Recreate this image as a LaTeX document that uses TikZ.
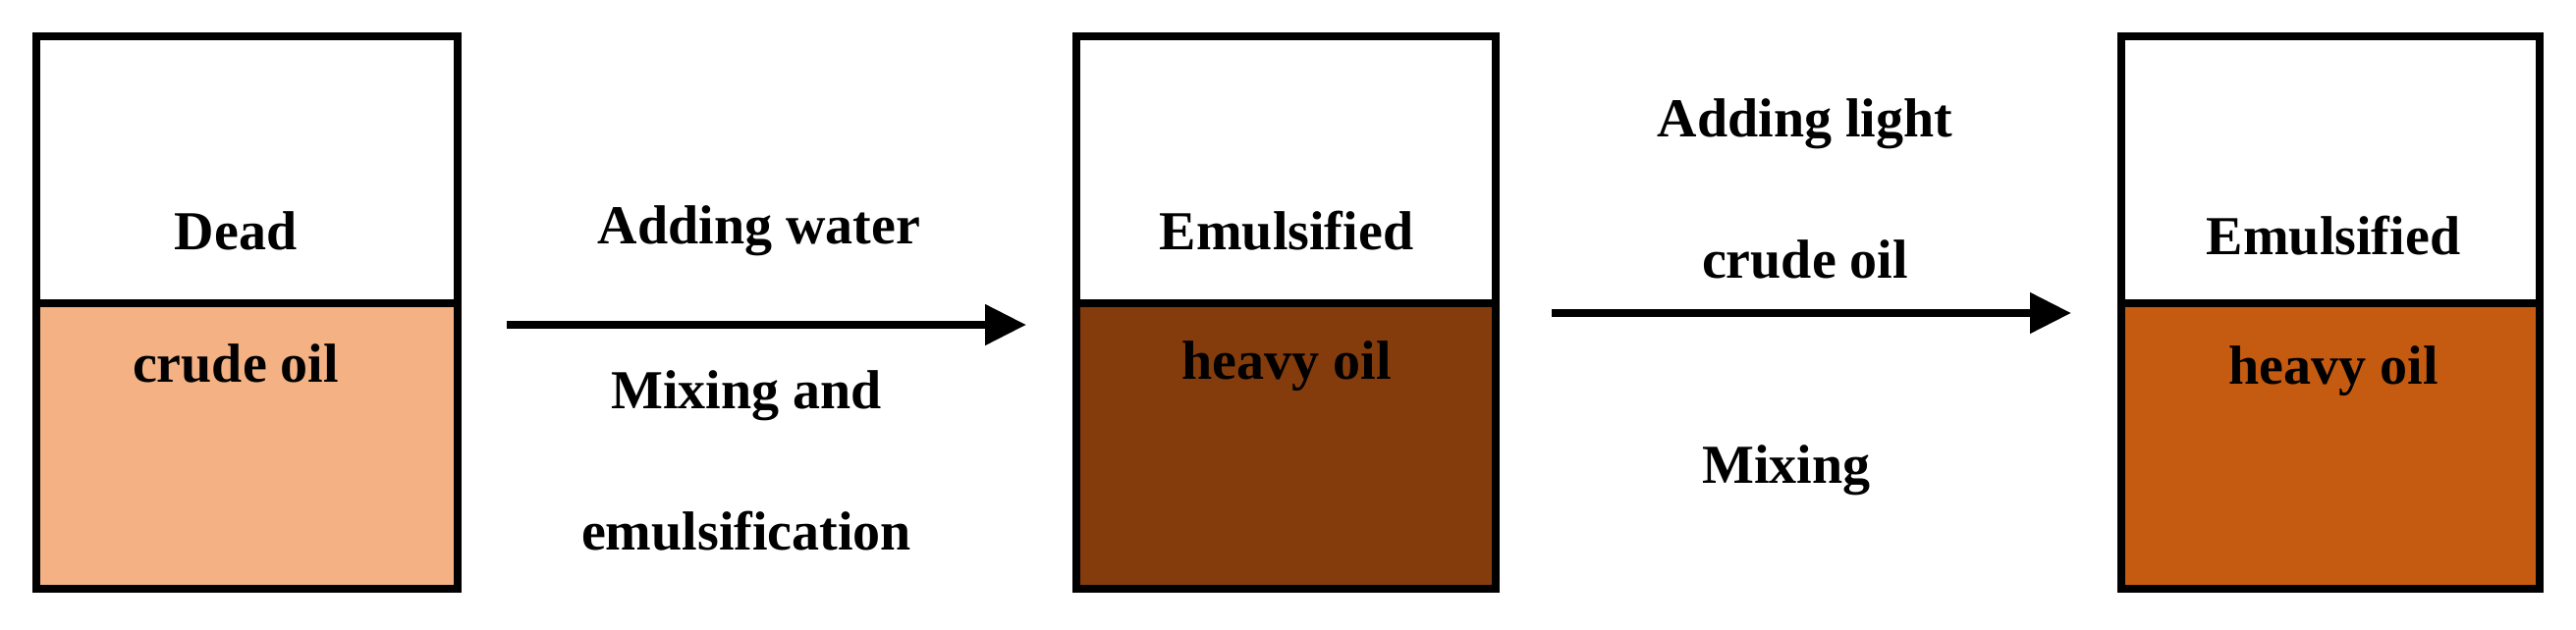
\documentclass[tikz,border=0pt]{standalone}
\usepackage{fontspec}
\setmainfont{Liberation Serif}
\usetikzlibrary{arrows.meta}
\definecolor{light}{HTML}{F4B183}
\definecolor{dark}{HTML}{843C0C}
\definecolor{orng}{HTML}{C55A11}
\begin{document}
\begin{tikzpicture}[x=1pt,y=-1pt,
  box/.style={draw=black,line width=8pt},
  lbl/.style={font=\fontsize{56}{60}\selectfont\bfseries,inner sep=0pt},
  arr/.style={line width=8pt,-{Triangle[length=42pt,width=40pt]}}]
\useasboundingbox (0,0) rectangle (2623,642);
% box 1
\fill[light] (37,309) rectangle (466,600);
\draw[box] (37,37) rectangle (466,600);
\draw[box] (37,309) -- (466,309);
% box 2
\fill[dark] (1096,309) rectangle (1523,600);
\draw[box] (1096,37) rectangle (1523,600);
\draw[box] (1096,309) -- (1523,309);
% box 3
\fill[orng] (2160,309) rectangle (2586,600);
\draw[box] (2160,37) rectangle (2586,600);
\draw[box] (2160,309) -- (2586,309);
\coordinate (a1s) at (516,331); \coordinate (a1e) at (1045,331);
\coordinate (a2s) at (1580,319); \coordinate (a2e) at (2109,319);
\draw[arr] (a1s) -- (a1e);
\draw[arr] (a2s) -- (a2e);
\node[lbl] (t1) at (240,235) {Dead};
\node[lbl] (t2) at (240,370) {crude oil};
\node[lbl] (t3) at (773,235) {Adding water};
\node[lbl] (t4) at (760,403) {Mixing and};
\node[lbl] (t5) at (760,541) {emulsification};
\node[lbl] (t6) at (1310,235) {Emulsified};
\node[lbl] (t7) at (1310,373) {heavy oil};
\node[lbl] (t8) at (1838,126) {Adding light};
\node[lbl] (t9) at (1838,264) {crude oil};
\node[lbl] (t10) at (1819,479) {Mixing};
\node[lbl] (t11) at (2376,240) {Emulsified};
\node[lbl] (t12) at (2376,378) {heavy oil};
\end{tikzpicture}
\end{document}
